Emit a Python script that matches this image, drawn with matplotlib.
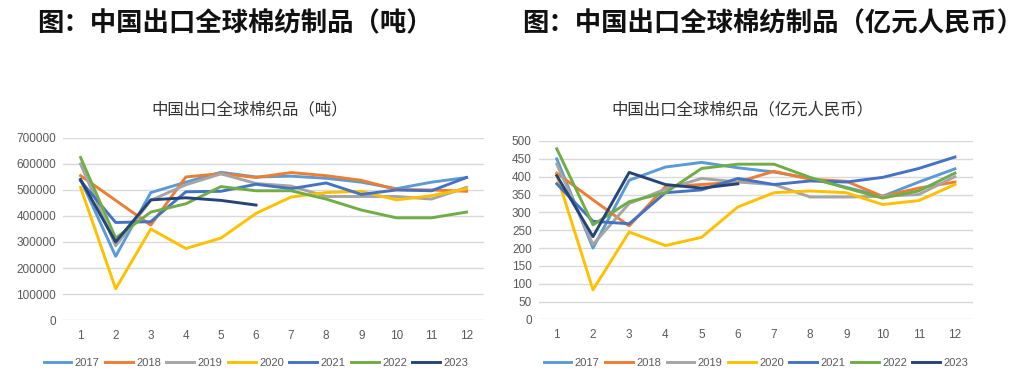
import matplotlib
matplotlib.use('Agg')
import matplotlib.pyplot as plt
from matplotlib.ticker import MultipleLocator

plt.rcParams['font.family'] = ['Liberation Sans', 'Noto Sans CJK SC', 'DejaVu Sans']

months = list(range(1, 13))
years = ['2017', '2018', '2019', '2020', '2021', '2022', '2023']
colors = ['#5B9BD5', '#ED7D31', '#A5A5A5', '#FFC000', '#4472C4', '#70AD47', '#264478']

# export volume, tons
tons_2017 = [540000, 245000, 490000, 530000, 568000, 550000, 553000, 545000, 530000, 505000, 530000, 548000]
tons_2018 = [555000, 460000, 365000, 550000, 563000, 548000, 567000, 555000, 537000, 502000, 500000, 495000]
tons_2019 = [600000, 285000, 460000, 520000, 562000, 525000, 515000, 475000, 475000, 475000, 465000, 510000]
tons_2020 = [510000, 120000, 350000, 275000, 315000, 410000, 473000, 490000, 495000, 462000, 478000, 505000]
tons_2021 = [535000, 375000, 378000, 493000, 495000, 522000, 505000, 527000, 483000, 500000, 497000, 548000]
tons_2022 = [625000, 315000, 415000, 447000, 513000, 497000, 497000, 465000, 423000, 393000, 393000, 415000]
tons_2023 = [540000, 300000, 462000, 470000, 460000, 442000]

# export value, 100 million RMB
rmb_2017 = [450, 200, 390, 427, 440, 425, 413, 395, 370, 345, 385, 422]
rmb_2018 = [410, 335, 262, 372, 378, 385, 415, 393, 387, 345, 368, 385]
rmb_2019 = [435, 210, 325, 365, 395, 385, 378, 343, 343, 345, 350, 400]
rmb_2020 = [405, 83, 245, 207, 230, 315, 355, 360, 355, 322, 333, 378]
rmb_2021 = [380, 275, 268, 355, 363, 395, 378, 388, 385, 398, 423, 455]
rmb_2022 = [478, 265, 330, 355, 423, 435, 435, 398, 368, 340, 360, 410]
rmb_2023 = [403, 232, 412, 378, 368, 380]

tons = [tons_2017, tons_2018, tons_2019, tons_2020, tons_2021, tons_2022, tons_2023]
rmb = [rmb_2017, rmb_2018, rmb_2019, rmb_2020, rmb_2021, rmb_2022, rmb_2023]

fig = plt.figure(figsize=(10.3, 3.78), dpi=100)

cjk = ['Noto Sans CJK SC', 'DejaVu Sans']
fig.text(0.036, 0.938, '图：中国出口全球棉纺制品（吨）', fontsize=19, fontweight='bold',
         family=cjk, va='center', ha='left', color='#111111')
fig.text(0.507, 0.938, '图：中国出口全球棉纺制品（亿元人民币）', fontsize=19, fontweight='bold',
         family=cjk, va='center', ha='left', color='#111111')

ax1 = fig.add_axes([0.0612, 0.1534, 0.4088, 0.4816])
ax2 = fig.add_axes([0.523, 0.155, 0.4217, 0.472])


def style(ax, ymax, step, title, title_x, legend_x):
    ax.set_xlim(0.5, 12.5)
    ax.set_ylim(0, ymax)
    ax.yaxis.set_major_locator(MultipleLocator(step))
    ax.set_xticks(months)
    ax.grid(axis='y', color='#D9D9D9', linewidth=1)
    ax.set_axisbelow(True)
    for s in ax.spines.values():
        s.set_visible(False)
    ax.tick_params(length=0, labelsize=8.5, colors='#595959', pad=7)
    ax.tick_params(axis='y', pad=5)
    fig.text(title_x, 0.709, title, ha='center', va='center',
             fontsize=11.8, family=cjk, color='#333333')
    handles, labels = ax.get_legend_handles_labels()
    fig.legend(handles, labels, loc='center', bbox_to_anchor=(legend_x, 0.04), ncol=7,
               frameon=False, fontsize=8, handlelength=2.5, handletextpad=0.3,
               columnspacing=0.5, labelcolor='#595959')


for i, yr in enumerate(years):
    ax1.plot(months[:len(tons[i])], tons[i], color=colors[i], lw=2.1, label=yr)
    ax2.plot(months[:len(rmb[i])], rmb[i], color=colors[i], lw=2.1, label=yr)

style(ax1, 700000, 100000, '中国出口全球棉织品（吨）', 0.2427, 0.2485)
style(ax2, 500, 50, '中国出口全球棉织品（亿元人民币）', 0.7204, 0.734)

fig.savefig('out.png', dpi=100)
